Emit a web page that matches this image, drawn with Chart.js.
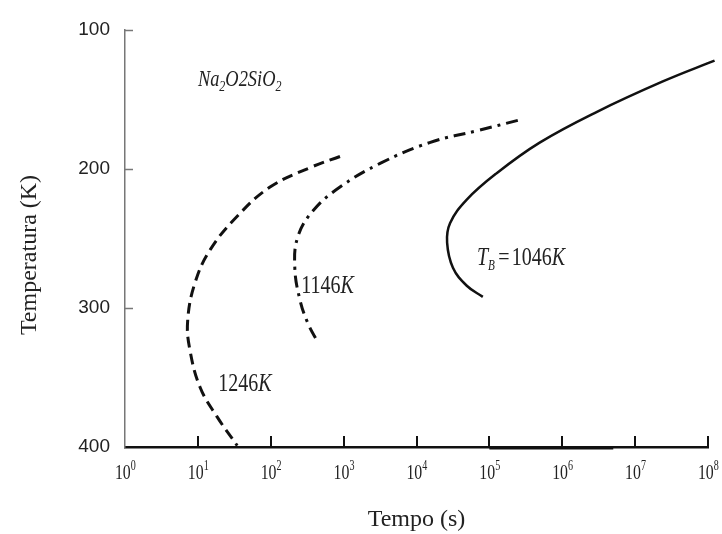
<!DOCTYPE html>
<html>
<head>
<meta charset="utf-8">
<script src="https://cdn.jsdelivr.net/npm/chart.js@4/dist/chart.umd.min.js"></script>
<style>
  html, body { margin: 0; padding: 0; background: #fff; }
</style>
</head>
<body>
<canvas id="ttt" width="722" height="534"></canvas>
<script>
// expoentes de 10 (tempo, s) e temperatura (K)
var exp1246 = [2.95, 2.54, 1.99, 1.54, 1.17, 0.96, 0.86, 0.89, 1.03, 1.26, 1.54];
var temp1246 = [191, 199, 213, 234, 258, 282, 309, 330, 357, 378, 399];

var exp1146 = [5.39, 4.87, 4.18, 3.50, 2.95, 2.58, 2.37, 2.33, 2.40, 2.51, 2.65];
var temp1146 = [165, 172, 181, 196, 213, 230, 249, 271, 294, 311, 325];

var exp1046 = [8.09, 7.38, 6.47, 5.69, 5.10, 4.69, 4.46, 4.42, 4.50, 4.69, 4.91];
var temp1046 = [122, 137, 159, 181, 203, 222, 239, 253, 271, 284, 292];

var xDecadas = [0, 1, 2, 3, 4, 5, 6, 7, 8];
var yTicks = [100, 200, 300, 400];

var SERIF = '"Liberation Serif"';

function pontos(exps, temps) {
  return exps.map(function (e, i) { return { x: Math.pow(10, e), y: temps[i] }; });
}

// escreve pedaços de texto estreitados (normal / itálico / subscrito)
function escrever(ctx, x, y, partes, k) {
  k = k || 0.8;
  ctx.save();
  ctx.translate(x, y);
  ctx.scale(k, 1);
  var cx = 0;
  partes.forEach(function (p) {
    ctx.font = p.font;
    ctx.fillText(p.t, cx, p.dy || 0);
    cx += ctx.measureText(p.t).width + (p.gap || 0);
  });
  ctx.restore();
  return cx * k;
}

var anotacoes = {
  id: 'anotacoes',
  afterDatasetsDraw: function (chart) {
    var ctx = chart.ctx;
    var xs = chart.scales.x, ys = chart.scales.y;
    var area = chart.chartArea;
    ctx.save();

    // marcas para dentro no eixo y
    ctx.strokeStyle = '#777';
    ctx.lineWidth = 1.5;
    yTicks.slice(0, 3).forEach(function (v) {
      var py = Math.round(ys.getPixelForValue(v)) + 0.5;
      ctx.beginPath();
      ctx.moveTo(area.left, py);
      ctx.lineTo(area.left + 8, py);
      ctx.stroke();
    });
    // marcas para dentro no eixo x
    ctx.strokeStyle = '#111';
    ctx.lineWidth = 2;
    xDecadas.slice(1).forEach(function (e) {
      var px = Math.round(xs.getPixelForValue(Math.pow(10, e)));
      ctx.beginPath();
      ctx.moveTo(px, area.bottom);
      ctx.lineTo(px, area.bottom - 11);
      ctx.stroke();
    });
    // trecho mais grosso do eixo x
    ctx.lineWidth = 2;
    ctx.beginPath();
    ctx.moveTo(xs.getPixelForValue(1e5), area.bottom + 1.5);
    ctx.lineTo(xs.getPixelForValue(Math.pow(10, 6.7)), area.bottom + 1.5);
    ctx.stroke();

    ctx.fillStyle = '#222';
    ctx.textBaseline = 'alphabetic';
    ctx.textAlign = 'left';

    // rótulos do eixo x: 10 com expoente
    xDecadas.forEach(function (e) {
      var px = xs.getPixelForValue(Math.pow(10, e));
      ctx.font = '22px ' + SERIF;
      var w = (ctx.measureText('10').width + 6) * 0.72;
      escrever(ctx, px - w / 2, area.bottom + 32, [
        { t: '10', font: '22px ' + SERIF },
        { t: String(e), font: '14px ' + SERIF, dy: -9 }
      ], 0.72);
    });

    // título do eixo y
    ctx.save();
    ctx.translate(36, 255);
    ctx.rotate(-Math.PI / 2);
    ctx.textAlign = 'center';
    ctx.font = '24px ' + SERIF;
    ctx.fillText('Temperatura (K)', 0, 0);
    ctx.restore();

    var it = 'italic 23px ' + SERIF;
    var sub = 'italic 15px ' + SERIF;
    escrever(ctx, xs.getPixelForValue(Math.pow(10, 1.0)), ys.getPixelForValue(140), [
      { t: 'Na', font: it }, { t: '2', font: sub, dy: 5 },
      { t: 'O2SiO', font: it }, { t: '2', font: sub, dy: 5 }
    ]);

    var num = '25px ' + SERIF;
    var kit = 'italic 25px ' + SERIF;
    escrever(ctx, xs.getPixelForValue(Math.pow(10, 2.42)), ys.getPixelForValue(289), [
      { t: '1146', font: num }, { t: 'K', font: kit }
    ]);
    escrever(ctx, xs.getPixelForValue(Math.pow(10, 1.28)), ys.getPixelForValue(360), [
      { t: '1246', font: num }, { t: 'K', font: kit }
    ]);
    escrever(ctx, xs.getPixelForValue(Math.pow(10, 4.83)), ys.getPixelForValue(269), [
      { t: 'T', font: kit }, { t: 'B', font: 'italic 14px ' + SERIF, dy: 5, gap: 4 },
      { t: '=', font: num, gap: 3 }, { t: '1046', font: num }, { t: 'K', font: kit }
    ]);
    ctx.restore();
  }
};

var ctx = document.getElementById('ttt').getContext('2d');
var grafico = new Chart(ctx, {
  type: 'scatter',
  data: {
    datasets: [{
      label: '1246K',
      data: pontos(exp1246, temp1246),
      borderColor: '#111',
      borderWidth: 3,
      borderDash: [11, 6]
    }, {
      label: '1146K',
      data: pontos(exp1146, temp1146),
      borderColor: '#111',
      borderWidth: 3,
      borderDash: [12, 6, 3, 6]
    }, {
      label: '1046K',
      data: pontos(exp1046, temp1046),
      borderColor: '#111',
      borderWidth: 2.5,
      clip: false
    }]
  },
  options: {
    responsive: false,
    animation: false,
    showLine: true,
    layout: { padding: { left: 0, right: 14, top: 30, bottom: 0 } },
    elements: {
      point: { radius: 0 },
      line: { tension: 0.4, fill: false }
    },
    plugins: {
      legend: { display: false },
      tooltip: { enabled: false }
    },
    scales: {
      x: {
        type: 'logarithmic',
        min: 1,
        max: 1e8,
        afterBuildTicks: function (scale) {
          scale.ticks = xDecadas.map(function (e) { return { value: Math.pow(10, e) }; });
        },
        afterFit: function (scale) { scale.height = 87; },
        grid: { display: false, drawTicks: false },
        border: { display: true, color: '#111', width: 2.5 },
        ticks: { display: false },
        title: {
          display: true,
          text: 'Tempo (s)',
          color: '#222',
          font: { family: SERIF, size: 24 },
          padding: { top: 0, bottom: 0 }
        }
      },
      y: {
        reverse: true,
        min: 100,
        max: 400,
        afterBuildTicks: function (scale) {
          scale.ticks = yTicks.map(function (v) { return { value: v }; });
        },
        afterFit: function (scale) { scale.width = 125; },
        grid: { display: false, drawTicks: false },
        border: { display: true, color: '#777', width: 1.5 },
        ticks: {
          padding: 15,
          color: '#222',
          font: { family: '"Liberation Sans"', size: 19 }
        }
      }
    }
  },
  plugins: [anotacoes]
});
</script>
</body>
</html>
